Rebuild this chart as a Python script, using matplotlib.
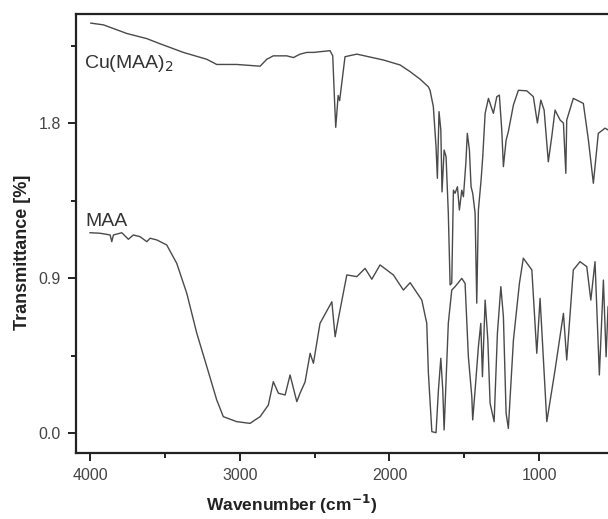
import matplotlib
matplotlib.use("Agg")
import matplotlib.pyplot as plt
from matplotlib.ticker import MultipleLocator, FormatStrFormatter

plt.rcParams['font.family'] = ['Liberation Sans', 'DejaVu Sans']

# Cu(MAA)2 spectrum (wavenumber cm-1, transmittance)
cu_wn = [3995, 3911, 3755, 3621, 3532, 3377, 3220, 3154, 3020, 2864, 2820, 2776,
         2686, 2642, 2597, 2552, 2508, 2397, 2379, 2367, 2359, 2348, 2343, 2333,
         2297, 2218, 2041, 1929, 1862, 1796, 1740, 1729, 1707, 1689, 1680, 1669,
         1657, 1649, 1635, 1622, 1607, 1595, 1584, 1573, 1562, 1546, 1533, 1517,
         1506, 1490, 1480, 1466, 1455, 1444, 1428, 1417, 1406, 1388, 1377, 1361,
         1339, 1306, 1283, 1266, 1250, 1239, 1221, 1206, 1172, 1139, 1083, 1039,
         1012, 989, 967, 939, 916, 894, 860, 838, 822, 816, 772, 705, 671, 638,
         605, 560, 540, 500]
cu_t = [2.38, 2.37, 2.32, 2.29, 2.26, 2.21, 2.17, 2.14, 2.14, 2.13, 2.17, 2.19,
        2.19, 2.18, 2.20, 2.21, 2.21, 2.22, 2.19, 1.93, 1.775, 1.90, 1.96, 1.93,
        2.185, 2.20, 2.166, 2.137, 2.098, 2.055, 2.01, 1.99, 1.895, 1.662, 1.479, 1.866,
        1.76, 1.40, 1.643, 1.604, 1.276, 0.86, 0.87, 1.41, 1.392, 1.43, 1.295, 1.41,
        1.372, 1.566, 1.74, 1.643, 1.43, 1.392, 1.276, 0.754, 1.295, 1.469, 1.604, 1.856,
        1.943, 1.856, 1.953, 1.962, 1.76, 1.547, 1.70, 1.75, 1.905, 1.99, 1.987, 1.953,
        1.80, 1.933, 1.875, 1.575, 1.72, 1.875, 1.817, 1.80, 1.508, 1.817, 1.943, 1.914, 1.70, 1.45,
        1.74, 1.77, 1.76, 1.76]

# MAA spectrum
maa_wn = [4000, 3933, 3866, 3855, 3844, 3788, 3744, 3711, 3666, 3621, 3599, 3554,
          3488, 3421, 3354, 3287, 3220, 3154, 3110, 3020, 2931, 2898, 2864, 2809,
          2776, 2742, 2697, 2664, 2619, 2597, 2564, 2530, 2508, 2464, 2385, 2363,
          2341, 2285, 2218, 2163, 2118, 2063, 1974, 1907, 1862, 1784, 1751, 1740,
          1717, 1689, 1673, 1657, 1644, 1635, 1607, 1584, 1562, 1542, 1517, 1495,
          1473, 1450, 1444, 1428, 1406, 1390, 1379, 1361, 1343, 1328, 1301, 1279,
          1256, 1239, 1221, 1206, 1172, 1132, 1106, 1049, 1016, 994, 949, 894,
          838, 816, 772, 727, 682, 655, 627, 598, 571, 553, 540, 513]
maa_t = [1.163, 1.160, 1.150, 1.111, 1.150, 1.163, 1.125, 1.150, 1.140, 1.111, 1.131, 1.121,
         1.092, 0.985, 0.811, 0.579, 0.385, 0.192, 0.095, 0.066, 0.056, 0.076, 0.095, 0.163,
         0.298, 0.231, 0.221, 0.337, 0.182, 0.232, 0.296, 0.463, 0.405, 0.637, 0.762, 0.559,
         0.666, 0.918, 0.908, 0.956, 0.893, 0.976, 0.918, 0.830, 0.873, 0.772, 0.637, 0.348,
         0.008, 0.002, 0.250, 0.434, 0.250, 0.018, 0.637, 0.830, 0.850, 0.871, 0.898, 0.869,
         0.443, 0.211, 0.076, 0.250, 0.501, 0.637, 0.327, 0.772, 0.540, 0.173, 0.066, 0.579,
         0.850, 0.675, 0.115, 0.027, 0.540, 0.869, 1.015, 0.947, 0.463, 0.782, 0.066, 0.366,
         0.695, 0.424, 0.947, 0.995, 0.966, 0.772, 0.995, 0.337, 0.888, 0.443, 0.733, 0.77]

x_ticks = [4000, 3000, 2000, 1000]
y_ticks = [0.0, 0.9, 1.8]

fig = plt.figure(figsize=(6.08, 5.19), dpi=100)
ax = fig.add_axes([76 / 608, 66 / 519, 553 / 608, 439 / 519])

line_color = '#4a4a4a'
ax.plot(cu_wn, cu_t, color=line_color, lw=1.0)
ax.plot(maa_wn, maa_t, color=line_color, lw=1.0)

ax.set_xlim(4094, 400)
ax.set_ylim(-0.116, 2.433)
ax.set_xticks(x_ticks)
ax.set_yticks(y_ticks)
ax.xaxis.set_minor_locator(MultipleLocator(500))
ax.yaxis.set_minor_locator(MultipleLocator(0.45))
ax.yaxis.set_major_formatter(FormatStrFormatter('%.1f'))

for s in ax.spines.values():
    s.set_linewidth(1.6)
    s.set_color('#222222')
ax.tick_params(which='major', direction='out', length=6, width=1.4, labelsize=11.5,
               colors='#222222', labelcolor='#444444', pad=5)
ax.tick_params(which='minor', direction='out', length=3.5, width=1.4, colors='#222222')

ax.set_xlabel('Wavenumber (cm$^{\\mathbf{-1}}$)', fontsize=12.5, fontweight='bold',
              color='#222222')
ax.xaxis.set_label_coords(216 / 553, -0.092)
ax.set_ylabel('Transmittance [%]', fontsize=13, fontweight='bold', color='#222222')
ax.yaxis.set_label_coords(-0.082, 201 / 439)

ax.text(4040, 2.12, 'Cu(MAA)$_2$', fontsize=14, color='#333333', va='baseline', ha='left')
ax.text(4033, 1.202, 'MAA', fontsize=14, color='#333333', va='baseline', ha='left')

fig.savefig('out.png', dpi=100)
